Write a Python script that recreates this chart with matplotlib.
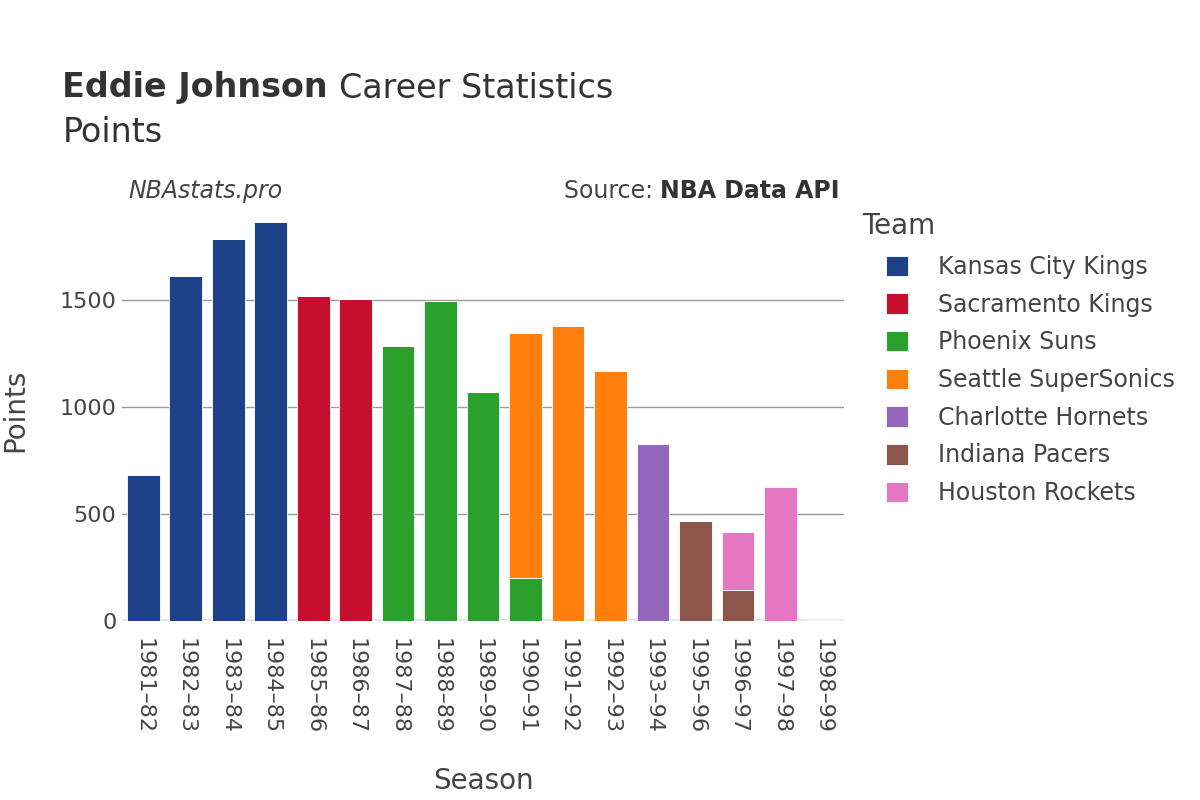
import matplotlib
matplotlib.use("Agg")
import matplotlib.pyplot as plt
import numpy as np

# season labels and points per team (0 = did not play for that team)
seasons = ["1981–82", "1982–83", "1983–84", "1984–85", "1985–86", "1986–87",
           "1987–88", "1988–89", "1989–90", "1990–91", "1991–92", "1992–93",
           "1993–94", "1995–96", "1996–97", "1997–98", "1998–99"]
teams = ["Kansas City Kings", "Sacramento Kings", "Phoenix Suns",
         "Seattle SuperSonics", "Charlotte Hornets", "Indiana Pacers",
         "Houston Rockets"]
colors = ["#1d428a", "#c8102e", "#2ca02c", "#ff7f0e", "#9467bd", "#8c564b", "#e377c2"]

kck = [681, 1611, 1784, 1866, 0, 0, 0, 0, 0, 0, 0, 0, 0, 0, 0, 0, 0]
sac = [0, 0, 0, 0, 1520, 1506, 0, 0, 0, 0, 0, 0, 0, 0, 0, 0, 0]
phx = [0, 0, 0, 0, 0, 0, 1285, 1495, 1071, 200, 0, 0, 0, 0, 0, 0, 0]
sea = [0, 0, 0, 0, 0, 0, 0, 0, 0, 1144, 1377, 1168, 0, 0, 0, 0, 0]
cha = [0, 0, 0, 0, 0, 0, 0, 0, 0, 0, 0, 0, 827, 0, 0, 0, 0]
ind = [0, 0, 0, 0, 0, 0, 0, 0, 0, 0, 0, 0, 0, 467, 145, 0, 0]
hou = [0, 0, 0, 0, 0, 0, 0, 0, 0, 0, 0, 0, 0, 0, 271, 625, 6]
series = [kck, sac, phx, sea, cha, ind, hou]

txt = "#444444"
dark = "#333333"
plt.rcParams['font.family'] = ['DejaVu Sans']

fig = plt.figure(figsize=(12, 8), dpi=100)
ax = fig.add_axes([0.1017, 0.2237, 0.6017, 0.5263])

x = np.arange(len(seasons))
bottom = np.zeros(len(seasons))
for name, vals, c in zip(teams, series, colors):
    v = np.array(vals, dtype=float)
    ax.bar(x, v, width=0.77, bottom=bottom, color=c, edgecolor="white",
           linewidth=0.6, label=name, zorder=3)
    bottom += v

ax.set_xlim(-0.5, len(seasons) - 0.5)
ax.set_ylim(0, 1967)
ax.set_yticks([0, 500, 1000, 1500])
ax.grid(axis="y", color="#999999", linewidth=1, zorder=0)
ax.axhline(0, color="#e8e8e8", linewidth=3, zorder=2)
for s in ax.spines.values():
    s.set_visible(False)
ax.set_xticks(x)
ax.set_xticklabels(seasons, rotation=-90, fontsize=16, color=txt)
ax.tick_params(axis="both", length=0, colors=txt, labelsize=16)
ax.tick_params(axis="x", pad=12)
ax.tick_params(axis="y", pad=4)

ax.set_xlabel("Season", fontsize=20, color=txt, labelpad=24)
ax.set_ylabel("Points", fontsize=20, color=txt, labelpad=22)

fig.canvas.draw()
r = fig.canvas.get_renderer()

t1 = fig.text(0.052, 0.89, "Eddie Johnson", fontsize=24, fontweight="bold",
              color=dark, va="center")
bb = t1.get_window_extent(r)
fig.text(bb.x1 / 1200 + 0.009, 0.89, "Career Statistics", fontsize=24,
         color=dark, va="center")
fig.text(0.052, 0.835, "Points", fontsize=24, color=dark, va="center")
fig.text(0.107, 0.761, "NBAstats.pro", fontsize=17, style="italic",
         color=txt, va="center")
src = fig.text(0.7, 0.761, "NBA Data API", fontsize=17, fontweight="bold",
               color=dark, va="center", ha="right")
bb = src.get_window_extent(r)
fig.text(bb.x0 / 1200, 0.761, "Source: ", fontsize=17, color=txt,
         va="center", ha="right")

# legend title drawn separately so the entries sit indented below it
fig.text(862 / 1200, 1 - 226 / 800, "Team", fontsize=20, color=txt, va="center")
leg = ax.legend(loc="upper left", bbox_to_anchor=(886 / 1200, 1 - 255 / 800),
                bbox_transform=fig.transFigure, frameon=False,
                fontsize=17, handlelength=0.95, handleheight=0.95,
                handletextpad=1.25, labelspacing=0.58, borderaxespad=0,
                borderpad=0)
for t in leg.get_texts():
    t.set_color(txt)

fig.savefig("out.png", dpi=100, facecolor="white")
